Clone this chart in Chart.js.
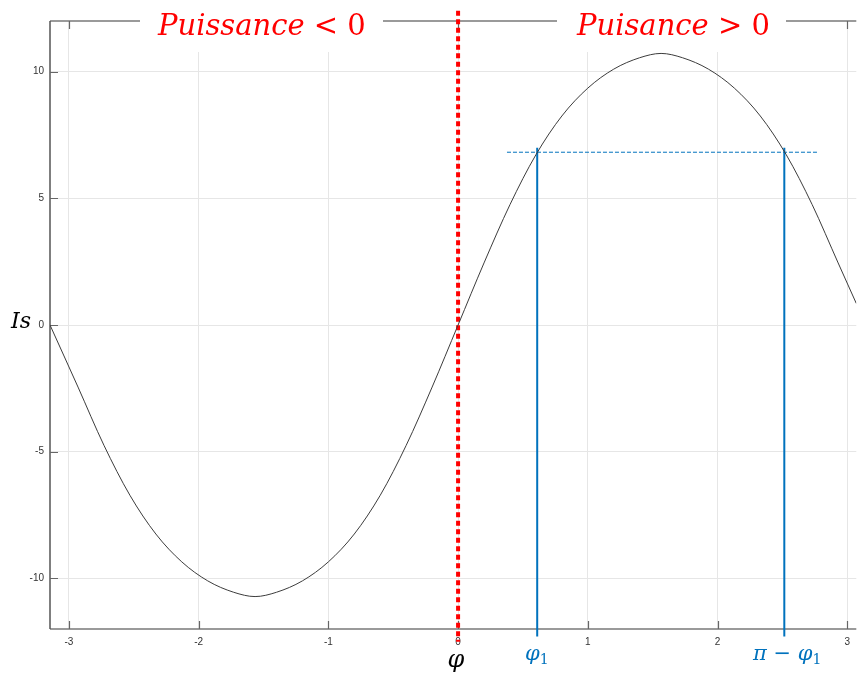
<!DOCTYPE html>
<html>
<head>
<meta charset="utf-8">
<script src="https://cdn.jsdelivr.net/npm/chart.js@4.4.1/dist/chart.umd.min.js"></script>
<style>
  html, body { margin: 0; padding: 0; background: #fff; overflow: hidden; }
  canvas { display: block; }
</style>
</head>
<body>
<canvas id="puissanceChart" width="857" height="674"></canvas>
<script>
var phi = [-3.146, -2.93, -2.73, -2.53, -2.33, -2.13, -1.93, -1.73, -1.565,
           -1.4, -1.2, -1.0, -0.8, -0.6, -0.4, -0.2, 0,
           0.2, 0.4, 0.6, 0.8, 1.0, 1.2, 1.4, 1.565,
           1.73, 1.93, 2.13, 2.33, 2.53, 2.73, 2.93, 3.07];
var isValues = [0, -2.45, -4.75, -6.72, -8.25, -9.35, -10.1, -10.55, -10.72,
                -10.55, -10.1, -9.35, -8.25, -6.72, -4.75, -2.45, 0,
                2.45, 4.75, 6.72, 8.25, 9.35, 10.1, 10.55, 10.72,
                10.55, 10.1, 9.35, 8.25, 6.72, 4.75, 2.45, 0.85];

var xTicks = [-3, -2, -1, 0, 1, 2, 3];
var yTicks = [-10, -5, 0, 5, 10];

var phi1 = 0.61;           // phi_1
var phi2 = 2.515;          // pi - phi_1
var isLevel = 6.82;        // dashed level
var levelFrom = 0.377;
var levelTo = 2.777;

var curvePoints = phi.map(function (p, i) { return { x: p, y: isValues[i] }; });

var BLUE = '#0072BD';

var framePlugin = {
	id: 'frame',
	beforeDatasetsDraw: function (chart) {
		var ctx = chart.ctx;
		var a = chart.chartArea;
		var x = chart.scales.x;
		var y = chart.scales.y;
		ctx.save();

		// box lines
		ctx.lineWidth = 1.5;
		ctx.strokeStyle = '#7a7a7a';
		ctx.beginPath();
		ctx.moveTo(a.left, a.top);
		ctx.lineTo(a.right, a.top);
		ctx.moveTo(a.left, a.bottom);
		ctx.lineTo(a.right, a.bottom);
		ctx.stroke();
		ctx.strokeStyle = '#555';
		ctx.beginPath();
		ctx.moveTo(a.left, a.top);
		ctx.lineTo(a.left, a.bottom);
		ctx.stroke();

		// inward tick marks
		ctx.lineWidth = 1.2;
		ctx.strokeStyle = '#666';
		ctx.beginPath();
		yTicks.forEach(function (v) {
			var py = Math.round(y.getPixelForValue(v)) + 0.5;
			ctx.moveTo(a.left, py);
			ctx.lineTo(a.left + 8, py);
		});
		xTicks.forEach(function (v) {
			var px = Math.round(x.getPixelForValue(v)) + 0.5;
			ctx.moveTo(px, a.bottom);
			ctx.lineTo(px, a.bottom - 8);
			ctx.moveTo(px, a.top);
			ctx.lineTo(px, a.top + 8);
		});
		ctx.stroke();

		// title boxes
		ctx.fillStyle = '#fff';
		ctx.fillRect(140, 0, 243, 52);
		ctx.fillRect(557, 0, 229, 52);

		ctx.fillStyle = '#ff0000';
		ctx.textBaseline = 'alphabetic';
		drawParts(ctx, 158, 35, [
			['italic 29px "DejaVu Serif"', 'Puissance'],
			['29px "DejaVu Serif"', ' < 0']
		]);
		drawParts(ctx, 577, 35, [
			['italic 29px "DejaVu Serif"', 'Puisance'],
			['29px "DejaVu Serif"', ' > 0']
		]);

		// axis names
		ctx.fillStyle = '#000';
		ctx.font = 'italic 22px "DejaVu Serif"';
		ctx.fillText('Is', 11, 328);
		ctx.textAlign = 'center';
		ctx.font = 'italic 24px "DejaVu Serif"';
		ctx.fillText('\u03c6', 456, 667);
		ctx.textAlign = 'left';

		// blue labels
		ctx.fillStyle = BLUE;
		drawParts(ctx, 525, 660, [
			['italic 21px "DejaVu Serif"', '\u03c6'],
			['14px "DejaVu Serif"', '1', 4]
		]);
		drawParts(ctx, 753, 660, [
			['italic 21px "DejaVu Serif"', '\u03c0'],
			['21px "DejaVu Serif"', ' \u2212 '],
			['italic 21px "DejaVu Serif"', '\u03c6'],
			['14px "DejaVu Serif"', '1', 4]
		]);
		ctx.restore();
	}
};

function drawParts(ctx, x0, base, parts) {
	var cx = x0;
	parts.forEach(function (p) {
		ctx.font = p[0];
		ctx.fillText(p[1], cx, base + (p[2] || 0));
		cx += ctx.measureText(p[1]).width;
	});
}

var chart = new Chart('puissanceChart', {
	type: 'line',
	data: {
		datasets: [
			{
				data: curvePoints,
				borderColor: '#3c3c3c',
				borderWidth: 1,
				pointRadius: 0,
				cubicInterpolationMode: 'monotone'
			},
			{
				data: [{ x: 0, y: 12.4 }, { x: 0, y: -12.5 }],
				borderColor: '#ff0000',
				borderWidth: 4,
				borderDash: [5, 3.5],
				pointRadius: 0,
				clip: false
			},
			{
				data: [{ x: phi1, y: 7.0 }, { x: phi1, y: -12.3 }],
				borderColor: BLUE,
				borderWidth: 2,
				pointRadius: 0,
				clip: false
			},
			{
				data: [{ x: phi2, y: 7.0 }, { x: phi2, y: -12.3 }],
				borderColor: BLUE,
				borderWidth: 2,
				pointRadius: 0,
				clip: false
			},
			{
				data: [{ x: levelFrom, y: isLevel }, { x: levelTo, y: isLevel }],
				borderColor: BLUE,
				borderWidth: 1,
				borderDash: [4, 2],
				pointRadius: 0
			}
		]
	},
	options: {
		responsive: false,
		animation: false,
		layout: { padding: { top: 21, left: 0, right: 0, bottom: 0 } },
		plugins: { legend: { display: false }, tooltip: { enabled: false } },
		scales: {
			x: {
				type: 'linear',
				min: -3.146,
				max: 3.07,
				afterBuildTicks: function (s) { s.ticks = xTicks.map(function (v) { return { value: v }; }); },
				afterFit: function (s) { s.height = 45; },
				grid: { color: '#e6e6e6', lineWidth: 1, drawTicks: false },
				border: { display: false },
				ticks: { padding: 7, color: '#333', font: { family: 'Liberation Sans', size: 10 } }
			},
			y: {
				min: -12,
				max: 12,
				afterBuildTicks: function (s) { s.ticks = yTicks.map(function (v) { return { value: v }; }); },
				afterFit: function (s) { s.width = 50; },
				grid: { color: '#e6e6e6', lineWidth: 1, drawTicks: false },
				border: { display: false },
				ticks: { padding: 6, color: '#333', font: { family: 'Liberation Sans', size: 10 } }
			}
		}
	},
	plugins: [framePlugin]
});
</script>
</body>
</html>
